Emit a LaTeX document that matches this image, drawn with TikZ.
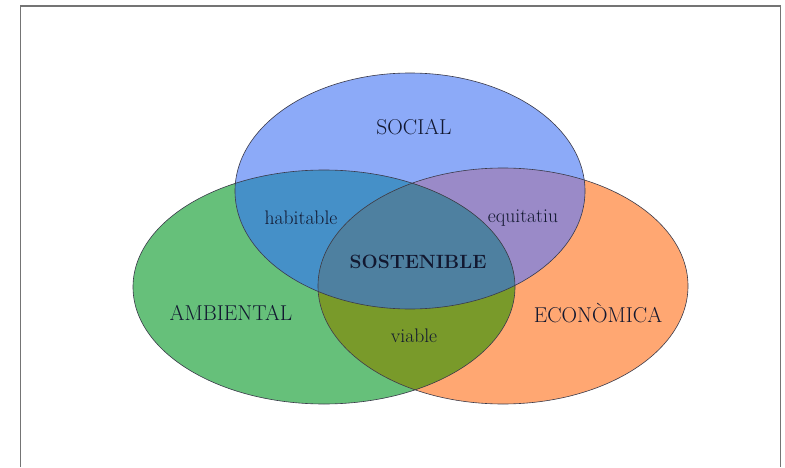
\documentclass[tikz,border=0pt]{standalone}
\usepackage{fontspec}
\definecolor{cblue}{HTML}{8CAAF8}
\definecolor{cgreen}{HTML}{66C07A}
\definecolor{corange}{HTML}{FFA772}
\definecolor{cbg}{HTML}{4590C8}
\definecolor{cpur}{HTML}{9A8AC8}
\definecolor{coli}{HTML}{799A2A}
\definecolor{ccen}{HTML}{4E80A0}
\definecolor{txt}{HTML}{121830}
\definecolor{frame}{HTML}{747474}
\definecolor{edge}{HTML}{3A3A4A}
\tikzset{
  big/.style={text=txt, inner sep=0pt, font=\fontsize{21.5}{24}\selectfont},
  small/.style={text=txt, inner sep=0pt, font=\fontsize{19.6}{22}\selectfont},
  core/.style={text=txt, inner sep=0pt, font=\bfseries\fontsize{19.2}{22}\selectfont},
  outline/.style={draw=edge, line width=0.6pt},
}
\def\Bell{(410,276) ellipse [x radius=175pt, y radius=118pt]}
\def\Gell{(324,180) ellipse [x radius=191pt, y radius=117pt]}
\def\Oell{(503,181) ellipse [x radius=185pt, y radius=118pt]}
\begin{document}
\begin{tikzpicture}[x=1pt,y=1pt]
\useasboundingbox (0,0) rectangle (785,467);
\fill[white] (0,0) rectangle (785,467);
% frame
\coordinate (f1) at (20.5,0);
\coordinate (f2) at (20.5,461);
\coordinate (f3) at (780.5,461);
\coordinate (f4) at (780.5,0);
\draw[frame, line width=1.3pt] (f1) -- (f2) -- (f3) -- (f4);
% base fills
\fill[cgreen] \Gell;
\fill[corange] \Oell;
\fill[cblue] \Bell;
\begin{scope}\clip \Gell; \fill[cbg] \Bell; \end{scope}
\begin{scope}\clip \Oell; \fill[cpur] \Bell; \end{scope}
\begin{scope}\clip \Gell; \fill[coli] \Oell; \end{scope}
\begin{scope}\clip \Gell; \clip \Oell; \fill[ccen] \Bell; \end{scope}
% outlines
\draw[outline] \Gell;
\draw[outline] \Oell;
\draw[outline] \Bell;
% labels
\node[big] (social) at (414,340) {SOCIAL};
\node[big] (amb) at (231,154) {AMBIENTAL};
\node[big] (eco) at (598,154) {ECONÒMICA};
\node[small] (hab) at (301,249) {habitable};
\node[small] (equ) at (523,249) {equitatiu};
\node[core] (sos) at (418,205) {SOSTENIBLE};
\node[small] (via) at (414,131) {viable};
\end{tikzpicture}
\end{document}
